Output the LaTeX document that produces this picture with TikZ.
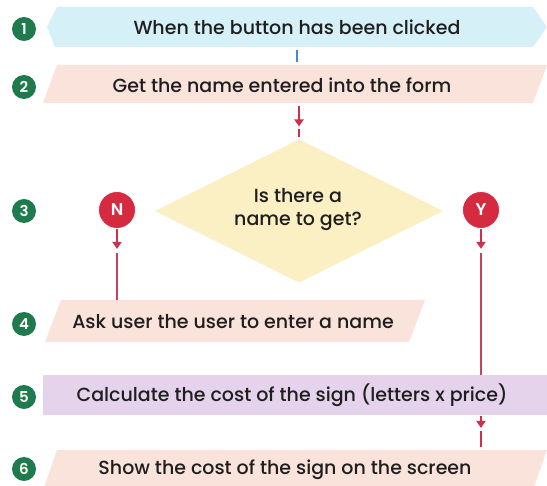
\documentclass[tikz,border=0pt]{standalone}
\usepackage{fontspec}
\setmainfont{Poppins}[UprightFont={* Medium},BoldFont={* SemiBold}]
\usetikzlibrary{calc,arrows.meta}
\definecolor{bluefill}{HTML}{D5F0F7}
\definecolor{pinkfill}{HTML}{FAE3DB}
\definecolor{purplefill}{HTML}{E4D3EB}
\definecolor{yellowfill}{HTML}{FBEFC4}
\definecolor{stepgreen}{HTML}{1F7A4E}
\definecolor{decred}{HTML}{D62A41}
\definecolor{linered}{HTML}{CF2F4B}
\definecolor{stemred}{HTML}{C4425C}
\definecolor{lineblue}{HTML}{3D8ED0}
\definecolor{txtcol}{HTML}{1E1E1E}
\begin{document}
\begin{tikzpicture}[x=1pt,y=-1pt,
  frame/.style={inner sep=0pt, outer sep=0pt, minimum width=#1},
  label/.style={inner sep=0pt, text=txtcol, font=\fontsize{19}{23}\selectfont, align=center},
  num/.style={circle, fill=stepgreen, inner sep=0pt, minimum size=24pt, text=white, font=\fontsize{15}{15}\selectfont\bfseries},
  dec/.style={circle, fill=decred, draw=white, line width=0.8pt, inner sep=0pt, minimum size=37pt, text=white, font=\fontsize{17}{17}\selectfont\bfseries},
  redarrow/.style={draw=linered, line width=1.8pt, -{Triangle[width=9pt,length=7pt]}},
  redline/.style={draw=linered, line width=1.8pt},
  stemline/.style={draw=stemred, line width=2.6pt},
  blueline/.style={draw=lineblue, line width=2pt}]
\path[use as bounding box] (0,0) rectangle (547,486);
\fill[white] (0,0) rectangle (547,486);

% geometry frames
\node[frame=500, minimum height=40pt] (b1) at (297,27) {};
\node[frame=504, minimum height=38pt] (b2) at (295,84) {};
\node[frame=288, minimum height=143pt] (dia) at (299,211) {};
\node[frame=380, minimum height=42pt] (b4) at (235,321) {};
\node[frame=504, minimum height=40pt] (b5) at (295,395) {};
\node[frame=504, minimum height=40pt] (b6) at (295,470) {};

% shapes
\fill[bluefill] (b1.west) -- ($(b1.north west)+(10,0)$) -- ($(b1.north east)+(-14,0)$) -- (b1.east) -- ($(b1.south east)+(-14,0)$) -- ($(b1.south west)+(8,0)$) -- cycle;
\fill[pinkfill] (b2.south west) -- ($(b2.north west)+(14,0)$) -- (b2.north east) -- ($(b2.south east)+(-14,0)$) -- cycle;
\fill[yellowfill] (dia.north) -- (dia.east) -- (dia.south) -- (dia.west) -- cycle;
\fill[pinkfill] (b4.south west) -- ($(b4.north west)+(16,0)$) -- (b4.north east) -- ($(b4.south east)+(-16,0)$) -- cycle;
\fill[purplefill] (b5.south west) rectangle (b5.north east);
\fill[pinkfill] (b6.south west) -- ($(b6.north west)+(14,0)$) -- (b6.north east) -- ($(b6.south east)+(-14,0)$) -- cycle;

% texts
\node[label] (t1) at (297,27) {When the button has been clicked};
\node[label] (t2) at (282,85) {Get the name entered into the form};
\node[label] (t3) at (298,210) {Is there a\\name to get?};
\node[label] (t4) at (233,322) {Ask user the user to enter a name};
\node[label] (t5) at (292,395) {Calculate the cost of the sign (letters x price)};
\node[label] (t6) at (285,470) {Show the cost of the sign on the screen};

% step numbers
\node[num] (n1) at (24,29) {1};
\node[num] (n2) at (24,87) {2};
\node[num] (n3) at (24,211) {3};
\node[num] (n4) at (24,324) {4};
\node[num] (n5) at (24,397) {5};
\node[num] (n6) at (24,469) {6};

% decision markers
\node[dec] (N) at (117,210) {N};
\node[dec] (Y) at (481,210) {Y};

% connectors
\draw[blueline] ($(b1.south)+(0,3)$) -- ($(b2.north -| b1.south)+(0,-3)$);
\draw[redarrow] ($(b2.south -| dia.north)+(0,3)$) -- ($(dia.north)+(0,-13)$);
\draw[redline] ($(dia.north)+(0,-10)$) -- ($(dia.north)+(0,-2)$);
\draw[redarrow] (N.south) -- ($(N.south)+(0,20)$);
\draw[stemline] ($(N.south)+(0,24)$) -- (b4.north -| N.south);
\draw[redarrow] (Y.south) -- ($(Y.south)+(0,20)$);
\draw[stemline] ($(Y.south)+(0,24)$) -- (b5.north -| Y.south);
\draw[redarrow] ($(b5.south -| Y.south)+(0,1)$) -- ($(b6.north -| Y.south)+(0,-22)$);
\draw[redline] ($(b6.north -| Y.south)+(0,-19)$) -- ($(b6.north -| Y.south)+(0,-3)$);
\end{tikzpicture}
\end{document}
